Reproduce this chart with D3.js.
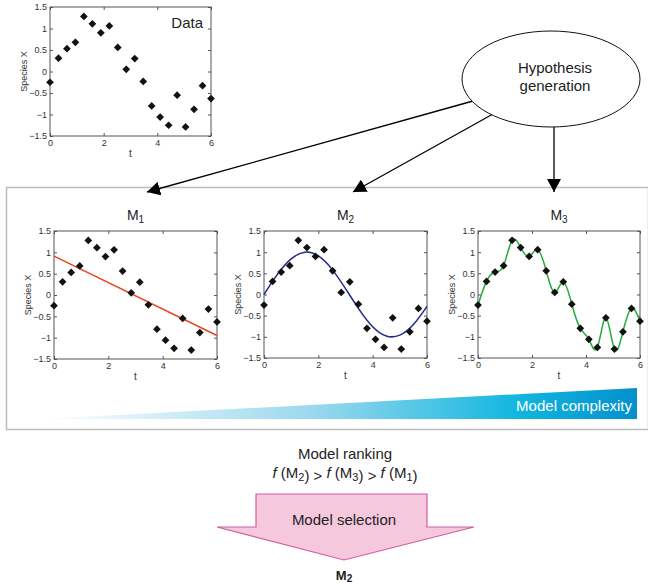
<!DOCTYPE html>
<html>
<head>
<meta charset="utf-8">
<script src="https://cdn.jsdelivr.net/npm/d3@7"></script>
<style>
  body { margin: 0; background: #fff; }
  text { font-family: "Liberation Sans", Arial, sans-serif; }
</style>
</head>
<body>
<div id="chart"></div>
<script>
// observed data: 20 samples of species X
const tData = [0, 0.316, 0.632, 0.947, 1.263, 1.579, 1.895, 2.211, 2.526, 2.842,
               3.158, 3.474, 3.789, 4.105, 4.421, 4.737, 5.053, 5.368, 5.684, 6];
const xData = [-0.25, 0.31, 0.53, 0.68, 1.28, 1.11, 0.9, 1.06, 0.56, 0.05,
               0.3, -0.23, -0.8, -1.06, -1.25, -0.55, -1.29, -0.88, -0.33, -0.63];

// model M1: straight line fit
const m1T = [0, 6];
const m1X = [0.91, -0.95];

// model M2: smooth oscillation
const m2T = [0, 0.5, 1, 1.5, 2, 2.5, 3, 3.5, 4, 4.5, 5, 5.5, 6];
const m2X = [0, 0.48, 0.84, 1.0, 0.91, 0.6, 0.14, -0.35, -0.76, -0.98, -0.96, -0.71, -0.28];

// axis ticks
const yTicks = [-1.5, -1, -0.5, 0, 0.5, 1, 1.5];
const xTicks = [0, 2, 4, 6];

const width = 648, height = 583;

const svg = d3.select("#chart")
  .append("svg")
    .attr("width", width)
    .attr("height", height);

const defs = svg.append("defs");

defs.append("marker")
    .attr("id", "head")
    .attr("markerUnits", "userSpaceOnUse")
    .attr("viewBox", "0 0 13 14")
    .attr("refX", 13).attr("refY", 7)
    .attr("markerWidth", 13).attr("markerHeight", 14)
    .attr("orient", "auto")
  .append("path")
    .attr("d", "M0,0L13,7L0,14Z")
    .attr("fill", "#000");

const grad = defs.append("linearGradient")
    .attr("id", "wedge")
    .attr("gradientUnits", "userSpaceOnUse")
    .attr("x1", 40).attr("x2", 637).attr("y1", 0).attr("y2", 0);
grad.append("stop").attr("offset", 0).attr("stop-color", "#ffffff");
grad.append("stop").attr("offset", 0.45).attr("stop-color", "#9dd9ee");
grad.append("stop").attr("offset", 0.8).attr("stop-color", "#12b6e0");
grad.append("stop").attr("offset", 1).attr("stop-color", "#0490cc");

// frame around the candidate models (right edge runs off the page)
svg.append("rect")
    .attr("x", 6.5).attr("y", 187.5)
    .attr("width", 642).attr("height", 242)
    .attr("fill", "none")
    .attr("stroke", "#bdbdbd")
    .attr("stroke-width", 1.5);

// complexity wedge
svg.append("path")
    .attr("d", "M40,419L637,388L637,419Z")
    .attr("fill", "url(#wedge)");
svg.append("text")
    .attr("x", 632).attr("y", 411)
    .attr("text-anchor", "end")
    .attr("font-size", 15)
    .attr("fill", "#fff")
    .text("Model complexity");

// one small matlab-like panel
function panel(box, opts) {
  const g = svg.append("g").attr("transform", `translate(${box.x},${box.y})`);
  const x = d3.scaleLinear().domain([0, 6]).range([0, box.w]);
  const y = d3.scaleLinear().domain([-1.5, 1.5]).range([box.h, 0]);
  const fmt = d3.format("~g");

  const ax = [
    g.append("g").call(d3.axisLeft(y).tickValues(yTicks).tickFormat(fmt).tickSize(-3).tickPadding(3)),
    g.append("g").attr("transform", `translate(${box.w},0)`)
      .call(d3.axisRight(y).tickValues(yTicks).tickFormat("").tickSize(-3)),
    g.append("g").attr("transform", `translate(0,${box.h})`)
      .call(d3.axisBottom(x).tickValues(xTicks).tickFormat(fmt).tickSize(-3).tickPadding(4)),
    g.append("g").call(d3.axisTop(x).tickValues(xTicks).tickFormat("").tickSize(-3))
  ];
  ax.forEach(a => {
    a.select(".domain").remove();
    a.selectAll("line").attr("stroke", "#555");
    a.selectAll("text").attr("font-size", 9).attr("fill", "#333")
      .style("font-family", "'Liberation Sans', Arial, sans-serif");
  });

  g.append("rect")
      .attr("width", box.w).attr("height", box.h)
      .attr("fill", "none").attr("stroke", "#555").attr("stroke-width", 1);

  g.append("text")
      .attr("x", box.w / 2).attr("y", box.h + 21)
      .attr("text-anchor", "middle").attr("font-size", 10).attr("fill", "#333")
      .text("t");
  g.append("text")
      .attr("transform", `translate(-23,${box.h / 2}) rotate(-90)`)
      .attr("text-anchor", "middle").attr("font-size", 9).attr("fill", "#333")
      .text("Species X");

  if (opts.line) {
    const ln = d3.line().x(d => x(d[0])).y(d => y(d[1])).curve(opts.curve || d3.curveLinear);
    g.append("path")
        .datum(d3.zip(opts.line[0], opts.line[1]))
        .attr("d", ln)
        .attr("fill", "none")
        .attr("stroke", opts.color)
        .attr("stroke-width", 1.5);
  }

  g.selectAll(".pt")
    .data(d3.zip(tData, xData))
    .join("path")
      .attr("class", "pt")
      .attr("transform", d => `translate(${x(d[0])},${y(d[1])}) rotate(45)`)
      .attr("d", d3.symbol(d3.symbolSquare, 30))
      .attr("fill", "#111");

  if (opts.title) {
    const t = g.append("text")
        .attr("x", box.w / 2).attr("y", -11)
        .attr("text-anchor", "middle").attr("font-size", 14).attr("fill", "#222");
    t.append("tspan").text("M");
    t.append("tspan").attr("font-size", 10).attr("dy", 3).text(opts.title);
  }
  if (opts.label) {
    g.append("text")
        .attr("x", box.w - 8).attr("y", 21)
        .attr("text-anchor", "end").attr("font-size", 15).attr("fill", "#222")
        .text(opts.label);
  }
}

panel({x: 50, y: 7, w: 161, h: 129}, {label: "Data"});
panel({x: 54, y: 231, w: 163, h: 128}, {title: "1", line: [m1T, m1X], color: "#e8461f"});
panel({x: 264, y: 231, w: 163, h: 127}, {title: "2", line: [m2T, m2X], color: "#22298a", curve: d3.curveNatural});
panel({x: 478, y: 231, w: 162, h: 127}, {title: "3", line: [tData, xData], color: "#21ad3a", curve: d3.curveNatural});

// hypothesis generation arrows
const arrows = [
  [473, 101, 147, 192],
  [493, 114, 353, 192],
  [554, 127, 554, 192]
];
svg.selectAll(".arr")
  .data(arrows)
  .join("line")
    .attr("class", "arr")
    .attr("x1", d => d[0]).attr("y1", d => d[1])
    .attr("x2", d => d[2]).attr("y2", d => d[3])
    .attr("stroke", "#000").attr("stroke-width", 1.3)
    .attr("marker-end", "url(#head)");

svg.append("ellipse")
    .attr("cx", 551).attr("cy", 79)
    .attr("rx", 89).attr("ry", 48)
    .attr("fill", "#fff").attr("stroke", "#111").attr("stroke-width", 1);
svg.append("text")
    .attr("x", 555).attr("y", 73)
    .attr("text-anchor", "middle").attr("font-size", 15).attr("fill", "#222")
    .text("Hypothesis");
svg.append("text")
    .attr("x", 555).attr("y", 91)
    .attr("text-anchor", "middle").attr("font-size", 15).attr("fill", "#222")
    .text("generation");

// ranking and selection
svg.append("text")
    .attr("x", 345).attr("y", 459)
    .attr("text-anchor", "middle").attr("font-size", 15).attr("fill", "#222")
    .text("Model ranking");

const rank = svg.append("text")
    .attr("x", 345).attr("y", 478)
    .attr("text-anchor", "middle").attr("font-size", 15).attr("fill", "#222");
[["2", "> "], ["3", "> "], ["1", ""]].forEach((p, i) => {
  rank.append("tspan").attr("font-style", "italic").attr("dy", i ? -3 : 0).text((i ? " " : "") + "f");
  rank.append("tspan").text(" (M");
  rank.append("tspan").attr("font-size", 11).attr("dy", 3).text(p[0]);
  rank.append("tspan").attr("dy", 0).text(")" + (p[1] ? " >" : ""));
});

svg.append("path")
    .attr("d", "M256,494L427,494L427,527L474,527L344,560L217,527L256,527Z")
    .attr("fill", "#f5c8de")
    .attr("stroke", "#d25ca3")
    .attr("stroke-width", 1.2);
svg.append("text")
    .attr("x", 344).attr("y", 525)
    .attr("text-anchor", "middle").attr("font-size", 15).attr("fill", "#222")
    .text("Model selection");

const sel = svg.append("text")
    .attr("x", 344).attr("y", 580)
    .attr("text-anchor", "middle").attr("font-size", 13)
    .attr("font-weight", "bold").attr("fill", "#222");
sel.append("tspan").text("M");
sel.append("tspan").attr("font-size", 10).attr("dy", 2).text("2");
</script>
</body>
</html>
